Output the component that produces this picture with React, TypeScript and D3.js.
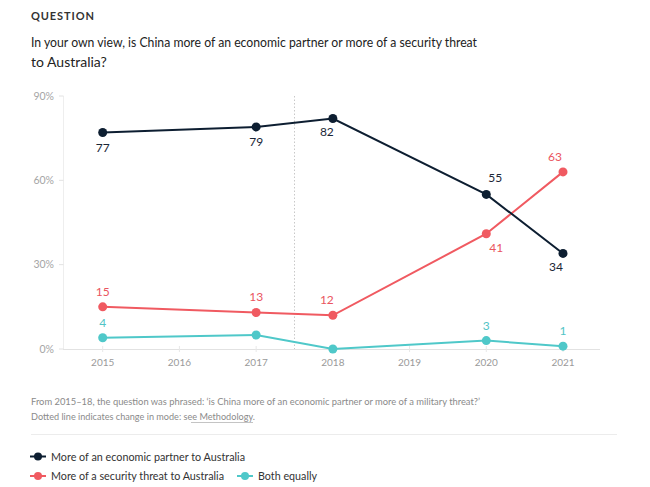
import React from "react";
import * as d3 from "d3";

const years = [2015, 2017, 2018, 2020, 2021];
const axisYears = [2015, 2016, 2017, 2018, 2019, 2020, 2021];
const yTicks = [0, 30, 60, 90];
const economicPartner = [77, 79, 82, 55, 34];
const securityThreat = [15, 13, 12, 41, 63];
const bothEqually = [4, 5, 0, 3, 1];
const bothLabels = ["4", "", "", "3", "1"];

const seriesNames = [
  "More of an economic partner to Australia",
  "More of a security threat to Australia",
  "Both equally",
];

const W = 650;
const H = 487;
const FONT = "Lato, 'Noto Sans', sans-serif";

const C_DARK = "#0d1e31";
const C_RED = "#f05a61";
const C_TEAL = "#4fc8c9";

// label offsets (dx, dy) relative to point
const econOff: [number, number][] = [[0, 19], [0, 19], [-6, 18], [9, -12], [-7, 18]];
const secOff: [number, number][] = [[0, -11], [0, -11], [-6, -11], [10, 18], [-8, -11]];
const bothOff: [number, number][] = [[0, -11], [0, -11], [0, -11], [0, -11], [0, -11]];

export default function App() {
  const x = d3.scaleLinear().domain([2015, 2021]).range([102.7, 563]);
  const y = d3.scaleLinear().domain([0, 90]).range([349, 96]);
  const line = d3
    .line<number>()
    .x((_, i) => x(years[i]))
    .y((d) => y(d));

  const series = [
    { values: economicPartner, color: C_DARK, labelColor: "#1a2636", off: econOff, labels: economicPartner.map(String) },
    { values: securityThreat, color: C_RED, labelColor: "#ea5560", off: secOff, labels: securityThreat.map(String) },
    { values: bothEqually, color: C_TEAL, labelColor: "#52c4c6", off: bothOff, labels: bothLabels },
  ];

  const drawOrder = [2, 1, 0];

  const legend = [
    { c: C_DARK, x0: 30, yy: 456.5, t: seriesNames[0], w: 194 },
    { c: C_RED, x0: 30, yy: 476, t: seriesNames[1], w: 173 },
    { c: C_TEAL, x0: 237, yy: 476, t: seriesNames[2], w: 59 },
  ];

  return (
    <svg
      width={W}
      height={H}
      style={{ position: "absolute", left: 0, top: 0, background: "#fff" }}
      fontFamily={FONT}
    >
      <rect width={W} height={H} fill="#fff" />
      <text x={31} y={20} fontSize={11} fontWeight={700} letterSpacing={0.9} fill="#333">
        QUESTION
      </text>
      <text x={31} y={47} fontSize={14} fill="#222" textLength={446} lengthAdjust="spacingAndGlyphs">
        In your own view, is China more of an economic partner or more of a security threat
      </text>
      <text x={31} y={67} fontSize={14} fill="#222">
        to Australia?
      </text>

      {/* axes */}
      <line x1={63.5} x2={63.5} y1={96} y2={349} stroke="#eee" />
      {yTicks.map((t) => (
        <g key={t}>
          <line x1={59} x2={63.5} y1={y(t)} y2={y(t)} stroke="#e2e2e2" />
          <text x={54} y={y(t) + 3.5} fontSize={10.5} fill="#a5a5a5" textAnchor="end">
            {t}%
          </text>
        </g>
      ))}
      <line x1={63} x2={600} y1={349.5} y2={349.5} stroke="#e2e2e2" />
      {axisYears.map((yr) => (
        <g key={yr}>
          <line x1={x(yr)} x2={x(yr)} y1={346} y2={352} stroke="#e8e8e8" />
          <text x={x(yr)} y={366} fontSize={10} fill="#9a9a9a" textAnchor="middle">
            {yr}
          </text>
        </g>
      ))}
      <line
        x1={x(2017.5)}
        x2={x(2017.5)}
        y1={96}
        y2={349}
        stroke="#c8c8c8"
        strokeDasharray="1.5,2"
      />

      {drawOrder.map((si) => {
        const s = series[si];
        return (
          <g key={si}>
            <path d={line(s.values) || ""} fill="none" stroke={s.color} strokeWidth={2} />
            {s.values.map((v, i) => (
              <circle key={i} cx={x(years[i])} cy={y(v)} r={4.5} fill={s.color} />
            ))}
          </g>
        );
      })}
      {series.map((s, si) =>
        s.values.map((v, i) =>
          s.labels[i] ? (
            <text
              key={`${si}-${i}`}
              x={x(years[i]) + s.off[i][0]}
              y={y(v) + s.off[i][1]}
              fontSize={12}
              fill={s.labelColor}
              textAnchor="middle"
            >
              {s.labels[i]}
            </text>
          ) : null
        )
      )}

      {/* footnote */}
      <text x={31} y={405} fontSize={10} fill="#8a8a8a" textLength={449} lengthAdjust="spacingAndGlyphs">
        From 2015–18, the question was phrased: ‘is China more of an economic partner or more of a military threat?’
      </text>
      <text x={31} y={420} fontSize={10} fill="#8a8a8a" textLength={224} lengthAdjust="spacingAndGlyphs">
        Dotted line indicates change in mode: see Methodology.
      </text>
      <line x1={191} x2={253} y1={422.5} y2={422.5} stroke="#aaa" strokeWidth={0.7} />
      <line x1={31} x2={617} y1={434.5} y2={434.5} stroke="#ececec" />

      {/* legend */}
      {legend.map((l, i) => (
        <g key={i}>
          <line x1={l.x0} x2={l.x0 + 16} y1={l.yy} y2={l.yy} stroke={l.c} strokeWidth={2} />
          <circle cx={l.x0 + 8} cy={l.yy} r={4} fill={l.c} />
          <text
            x={l.x0 + 21}
            y={l.yy + 4}
            fontSize={12}
            fill="#333"
            textLength={l.w}
            lengthAdjust="spacingAndGlyphs"
          >
            {l.t}
          </text>
        </g>
      ))}
    </svg>
  );
}
